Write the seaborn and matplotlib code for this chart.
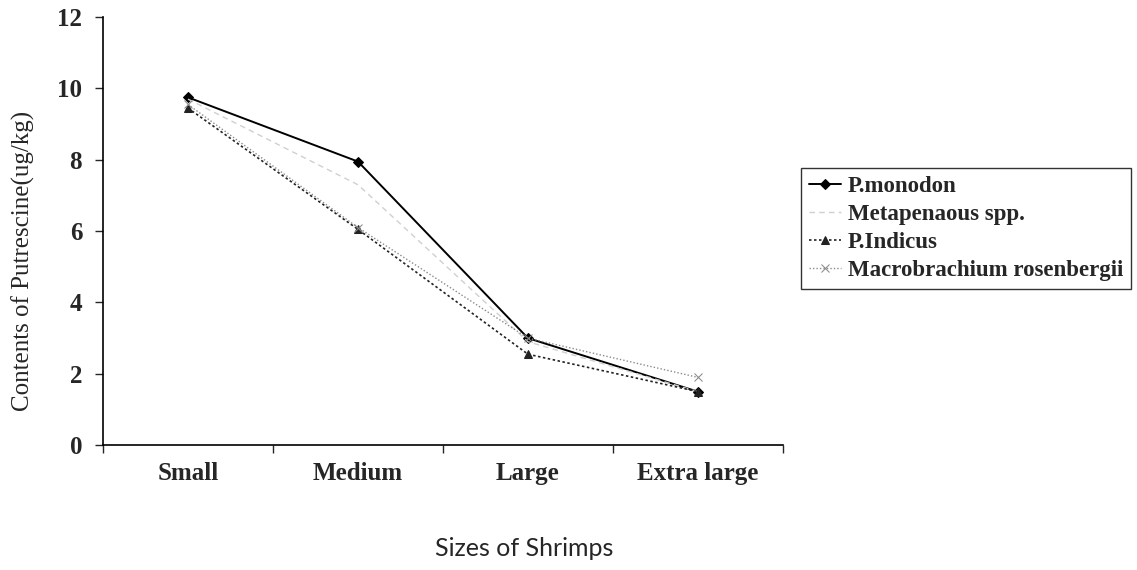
import matplotlib
matplotlib.use("Agg")
import matplotlib.pyplot as plt
import seaborn as sns
import pandas as pd
import numpy as np

sizes = ["Small", "Medium", "Large", "Extra large"]
p_monodon = [9.75, 7.95, 3.0, 1.5]
metapenaous = [9.7, 7.3, 2.9, 1.5]
p_indicus = [9.45, 6.05, 2.55, 1.5]
macrobrachium = [9.55, 6.1, 3.0, 1.9]
series_names = ["P.monodon", "Metapenaous spp.", "P.Indicus", "Macrobrachium rosenbergii"]
y_ticks = [0, 2, 4, 6, 8, 10, 12]

series_values = [p_monodon, metapenaous, p_indicus, macrobrachium]

# per-series line styling
styles = {
    "P.monodon": dict(color="#000000", linestyle="-", marker="D", markersize=5, linewidth=1.4),
    "Metapenaous spp.": dict(color="#d0d0d0", linestyle=(0, (4, 3)), marker="s", markersize=0, linewidth=1.0),
    "P.Indicus": dict(color="#222222", linestyle=(0, (1.5, 1.5)), marker="^", markersize=6, linewidth=1.2),
    "Macrobrachium rosenbergii": dict(color="#8a8a8a", linestyle=(0, (1, 1.5)), marker="x", markersize=6, linewidth=1.0),
}

sns.set_style("white")
fig = plt.figure(figsize=(11.37, 5.70), dpi=100)
ax = fig.add_axes([0.0906, 0.219, 0.598, 0.751])

xpos = np.arange(len(sizes))
for name, vals in zip(series_names, series_values):
    d = pd.DataFrame({"x": xpos, "Value": vals})
    st = styles[name]
    sns.lineplot(data=d, x="x", y="Value", ax=ax, label=name,
                 color=st["color"], linestyle=st["linestyle"], linewidth=st["linewidth"],
                 marker=st["marker"], markersize=st["markersize"],
                 markeredgecolor=st["color"], markerfacecolor=st["color"])

ax.set_xlim(-0.5, 3.5)
ax.set_ylim(0, 12)
ax.set_yticks(y_ticks)
ax.set_yticklabels([str(t) for t in y_ticks])

# category boundaries carry the tick marks, centres carry the labels
ax.set_xticks(np.arange(-0.5, 4.0, 1.0))
ax.set_xticklabels([])
ax.set_xticks(xpos, minor=True)
ax.set_xticklabels(sizes, minor=True)
ax.tick_params(axis="x", which="minor", length=0, pad=12)
ax.tick_params(axis="x", which="major", length=6, width=1, direction="out", bottom=True)
ax.tick_params(axis="y", length=6, width=1, direction="out", left=True, pad=9)

for lbl in ax.get_yticklabels() + ax.get_xticklabels(minor=True):
    lbl.set_fontfamily("Liberation Serif")
    lbl.set_fontweight("bold")
    lbl.set_fontsize(18)

for side in ["top", "right"]:
    ax.spines[side].set_visible(False)
for side in ["left", "bottom"]:
    ax.spines[side].set_color("black")
    ax.spines[side].set_linewidth(1.2)

ax.set_ylabel("Contents of Putrescine(ug/kg)", fontfamily="Liberation Serif", fontsize=18)
ax.yaxis.set_label_coords(-0.1, 0.43)
ax.set_xlabel("Sizes of Shrimps", fontfamily="Lato", fontsize=18)
ax.xaxis.set_label_coords(0.62, -0.215)

handles, labels = ax.get_legend_handles_labels()
leg = ax.legend(handles, labels, loc="center left", bbox_to_anchor=(1.026, 0.507),
                frameon=True, fancybox=False, edgecolor="black", handlelength=1.4,
                handletextpad=0.3, borderpad=0.35, labelspacing=0.3, borderaxespad=0,
                prop={"family": "Liberation Serif", "weight": "bold", "size": 16.5})
leg.get_frame().set_linewidth(1.0)

fig.savefig("out.png", dpi=100)
